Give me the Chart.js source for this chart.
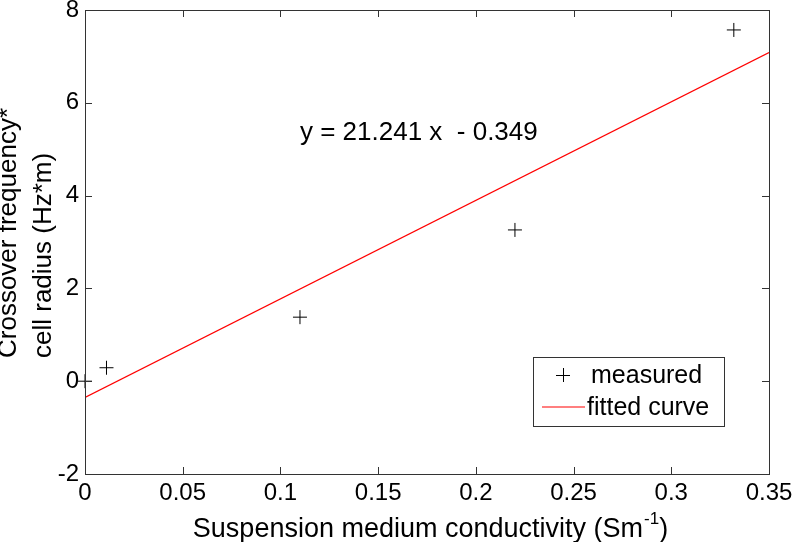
<!DOCTYPE html>
<html>
<head>
<meta charset="utf-8">
<script src="https://cdn.jsdelivr.net/npm/chart.js@4"></script>
<style>
  html, body { margin: 0; padding: 0; background: #fff; }
  #wrap { width: 794px; height: 542px; }
</style>
</head>
<body>
<div id="wrap"><canvas id="grafico"></canvas></div>
<script>
// dados
const medidoX = [0, 0.011, 0.11, 0.22, 0.332];
const medidoY = [0, 0.29, 1.38, 3.26, 7.57];
const ajusteX = [0, 0.35];
const ajusteY = [-0.349, 7.085];
const ticksX = [0, 0.05, 0.1, 0.15, 0.2, 0.25, 0.3, 0.35];
const ticksY = [-2, 0, 2, 4, 6, 8];
const rotulosX = ['0', '0.05', '0.1', '0.15', '0.2', '0.25', '0.3', '0.35'];
const rotulosY = ['-2', '0', '2', '4', '6', '8'];
const equacao = 'y = 21.241 x  - 0.349';

const fonte = '"Liberation Sans", Arial, sans-serif';
const corEixo = '#333';

// caixa, ticks para dentro, legenda, textos
const extras = {
    id: 'extras',
    afterDraw(chart) {
        const ctx = chart.ctx;
        const a = chart.chartArea;
        const sx = chart.scales.x, sy = chart.scales.y;
        ctx.save();
        ctx.strokeStyle = corEixo;
        ctx.lineWidth = 1;
        ctx.strokeRect(Math.round(a.left) + 0.5, Math.round(a.top) + 0.5,
            Math.round(a.right - a.left), Math.round(a.bottom - a.top));

        const tam = 7;
        ctx.beginPath();
        ticksX.forEach(v => {
            const px = Math.round(sx.getPixelForValue(v)) + 0.5;
            ctx.moveTo(px, a.bottom); ctx.lineTo(px, a.bottom - tam);
            ctx.moveTo(px, a.top); ctx.lineTo(px, a.top + tam);
        });
        ticksY.forEach(v => {
            const py = Math.round(sy.getPixelForValue(v)) + 0.5;
            ctx.moveTo(a.left, py); ctx.lineTo(a.left + tam, py);
            ctx.moveTo(a.right, py); ctx.lineTo(a.right - tam, py);
        });
        ctx.stroke();

        // equação
        ctx.fillStyle = '#000';
        ctx.font = '26px ' + fonte;
        ctx.textBaseline = 'middle';
        ctx.textAlign = 'left';
        ctx.fillText(equacao, sx.getPixelForValue(0.11), sy.getPixelForValue(5.35));

        // legenda
        const lx = 533, ly = 357, lw = 191, lh = 69;
        ctx.fillStyle = '#fff';
        ctx.fillRect(lx, ly, lw, lh);
        ctx.strokeStyle = corEixo;
        ctx.strokeRect(lx + 0.5, ly + 0.5, lw, lh);
        ctx.strokeStyle = '#000';
        ctx.beginPath();
        ctx.moveTo(556, 375.5); ctx.lineTo(570, 375.5);
        ctx.moveTo(563.5, 368); ctx.lineTo(563.5, 382);
        ctx.stroke();
        ctx.strokeStyle = '#ff0000';
        ctx.lineWidth = 1.2;
        ctx.beginPath();
        ctx.moveTo(542, 407); ctx.lineTo(585, 407);
        ctx.stroke();
        ctx.fillStyle = '#000';
        ctx.font = '25px ' + fonte;
        ctx.fillText('measured', 591, 376);
        ctx.fillText('fitted curve', 587, 408);

        // título eixo x com expoente
        ctx.textBaseline = 'alphabetic';
        ctx.font = '27px ' + fonte;
        const base = 'Suspension medium conductivity (Sm';
        const wBase = ctx.measureText(base).width;
        ctx.font = '17px ' + fonte;
        const wSup = ctx.measureText('-1').width;
        ctx.font = '27px ' + fonte;
        const wFim = ctx.measureText(')').width;
        const cx = (a.left + a.right) / 2 + 3;
        const x0 = cx - (wBase + wSup + wFim) / 2;
        const yTit = 537;
        ctx.fillText(base, x0, yTit);
        ctx.font = '17px ' + fonte;
        ctx.fillText('-1', x0 + wBase + 1, yTit - 13);
        ctx.font = '27px ' + fonte;
        ctx.fillText(')', x0 + wBase + wSup + 1, yTit);

        // título eixo y (duas linhas, alinhadas à esquerda)
        ctx.font = '26px ' + fonte;
        ctx.translate(0, 358);
        ctx.rotate(-Math.PI / 2);
        ctx.textAlign = 'left';
        ctx.fillText('Crossover frequency*', 0, 16);
        ctx.fillText('cell radius (Hz*m)', 0, 51);
        ctx.restore();
    }
};

const semPadding = s => { s.paddingLeft = 0; s.paddingRight = 0; s.paddingTop = 0; s.paddingBottom = 0; };

const ctxGrafico = document.getElementById('grafico').getContext('2d');
new Chart(ctxGrafico, {
    type: 'scatter',
    data: {
        datasets: [
            {
                label: 'measured',
                data: medidoX.map((x, i) => ({ x: x, y: medidoY[i] })),
                pointStyle: 'cross',
                pointRadius: 7,
                pointBorderColor: '#000',
                pointBackgroundColor: '#000',
                pointBorderWidth: 1,
                showLine: false,
                clip: false
            },
            {
                label: 'fitted curve',
                data: ajusteX.map((x, i) => ({ x: x, y: ajusteY[i] })),
                showLine: true,
                borderColor: '#ff0000',
                borderWidth: 1.2,
                pointRadius: 0,
                fill: false
            }
        ]
    },
    options: {
        responsive: true,
        maintainAspectRatio: false,
        animation: false,
        layout: { padding: { top: 10, right: 25, left: 0, bottom: 0 } },
        plugins: { legend: { display: false }, tooltip: { enabled: false } },
        scales: {
            x: {
                type: 'linear', min: 0, max: 0.35,
                grid: { display: false, drawTicks: false },
                border: { display: false },
                afterBuildTicks: s => { s.ticks = ticksX.map(v => ({ value: v })); },
                afterFit: s => { s.height = 68; semPadding(s); },
                ticks: {
                    autoSkip: false, maxRotation: 0, padding: 5, color: '#000',
                    font: { family: fonte, size: 24 },
                    callback: (v, i) => rotulosX[i]
                }
            },
            y: {
                type: 'linear', min: -2, max: 8,
                grid: { display: false, drawTicks: false },
                border: { display: false },
                afterBuildTicks: s => { s.ticks = ticksY.map(v => ({ value: v })); },
                afterFit: s => { s.width = 85; semPadding(s); },
                ticks: {
                    autoSkip: false, padding: 6, color: '#000',
                    font: { family: fonte, size: 24 },
                    callback: (v, i) => rotulosY[i]
                }
            }
        }
    },
    plugins: [extras]
});
</script>
</body>
</html>
